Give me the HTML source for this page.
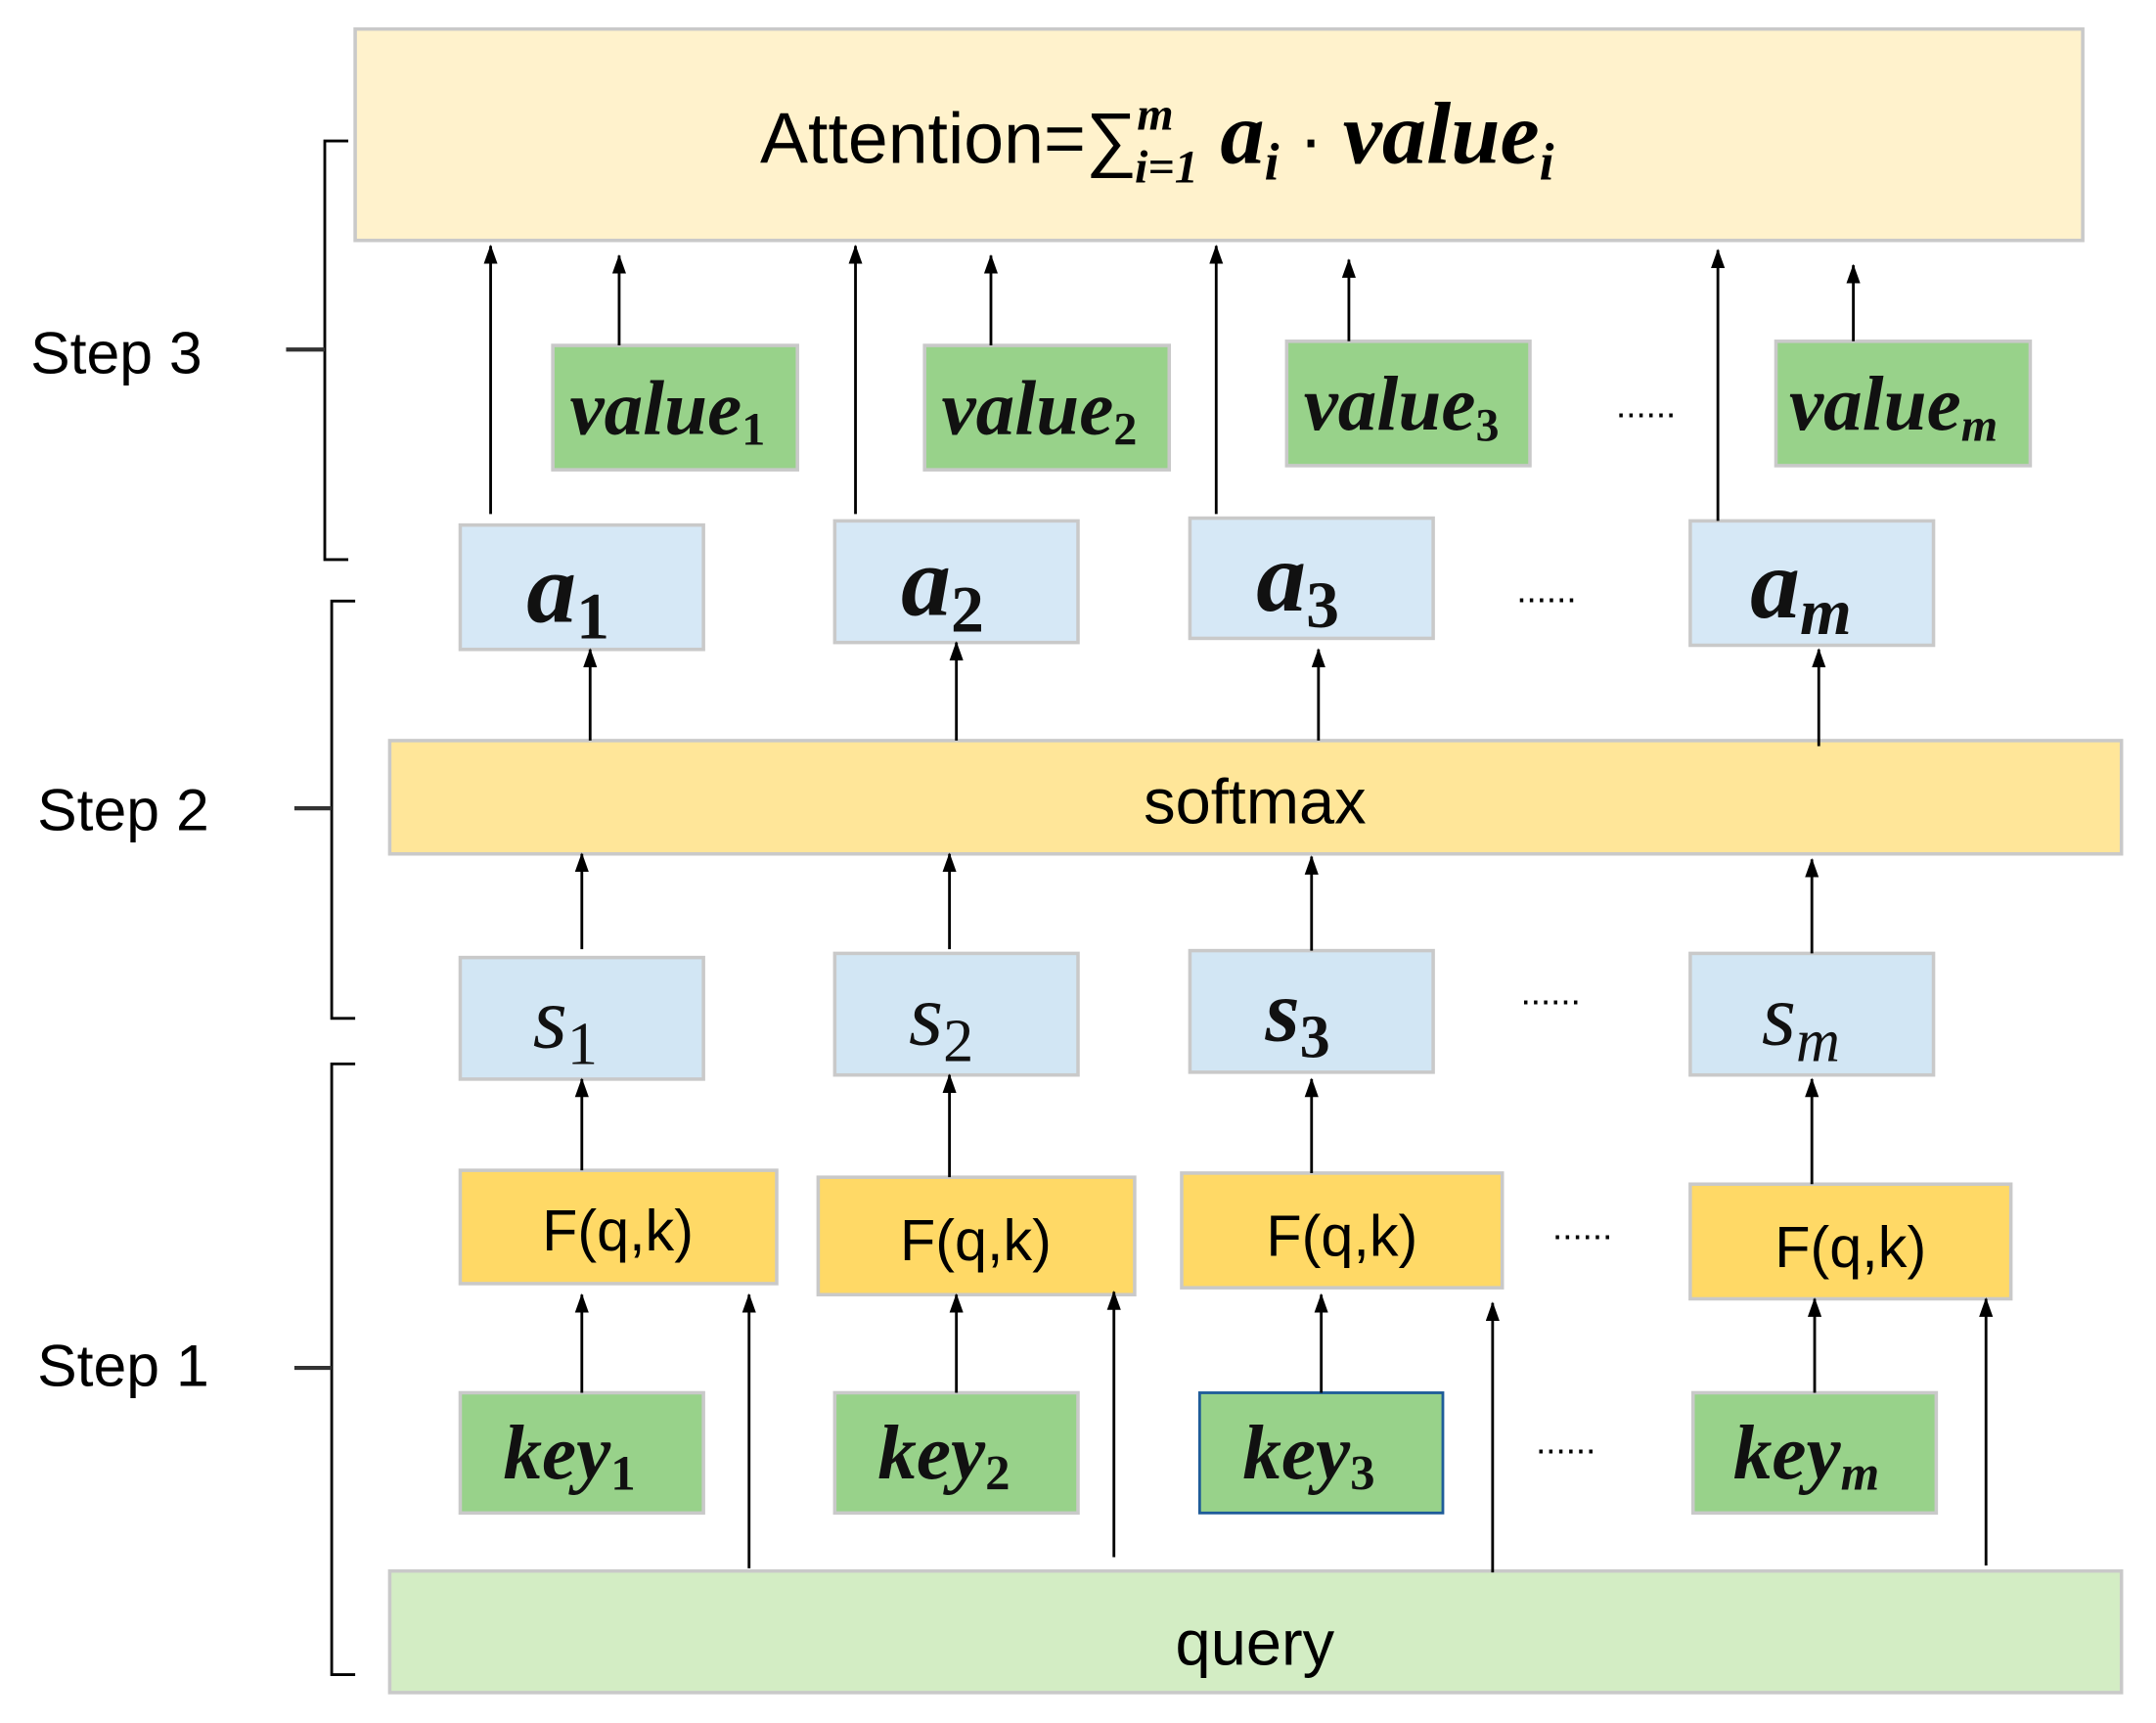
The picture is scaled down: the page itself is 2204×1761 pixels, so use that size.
<!DOCTYPE html>
<html><head><meta charset="utf-8"><style>html,body{margin:0;padding:0;background:#fff}svg{display:block}</style></head>
<body>
<svg width="2204" height="1761" viewBox="0 0 1560 1247" preserveAspectRatio="none" xmlns="http://www.w3.org/2000/svg">
<defs>
<marker id="ar" markerWidth="14" markerHeight="10" refX="13" refY="5" orient="auto" markerUnits="userSpaceOnUse" viewBox="0 0 14 10">
<path d="M0,0 L14,5 L0,10 Z" fill="#000"/></marker>
</defs>
<g stroke="#c9c9c9" stroke-width="2.5">
<rect x="257" y="21" width="1250" height="153" fill="#fff2cc"/>
<rect x="400" y="250" width="177" height="90" fill="#98d28a"/>
<rect x="669" y="250" width="177" height="90" fill="#98d28a"/>
<rect x="931" y="247" width="176" height="90" fill="#98d28a"/>
<rect x="1285" y="247" width="184" height="90" fill="#98d28a"/>
<rect x="333" y="380" width="176" height="90" fill="#d6e8f6"/>
<rect x="604" y="377" width="176" height="88" fill="#d6e8f6"/>
<rect x="861" y="375" width="176" height="87" fill="#d6e8f6"/>
<rect x="1223" y="377" width="176" height="90" fill="#d6e8f6"/>
<rect x="282" y="536" width="1253" height="82" fill="#ffe699"/>
<rect x="333" y="693" width="176" height="88" fill="#d2e6f4"/>
<rect x="604" y="690" width="176" height="88" fill="#d2e6f4"/>
<rect x="861" y="688" width="176" height="88" fill="#d2e6f4"/>
<rect x="1223" y="690" width="176" height="88" fill="#d2e6f4"/>
<rect x="333" y="847" width="229" height="82" fill="#ffd966"/>
<rect x="592" y="852" width="229" height="85" fill="#ffd966"/>
<rect x="855" y="849" width="232" height="83" fill="#ffd966"/>
<rect x="1223" y="857" width="232" height="83" fill="#ffd966"/>
<rect x="333" y="1008" width="176" height="87" fill="#98d28a"/>
<rect x="604" y="1008" width="176" height="87" fill="#98d28a"/>
<rect x="1225" y="1008" width="176" height="87" fill="#98d28a"/>
<rect x="282" y="1137" width="1253" height="88" fill="#d3edc4"/>
</g>
<rect x="868" y="1008" width="176" height="87" fill="#98d28a" stroke="#1f5c99" stroke-width="2"/>

<g stroke="#000" stroke-width="2" fill="none" marker-end="url(#ar)">
<line x1="355" y1="372" x2="355" y2="178"/><line x1="619" y1="372" x2="619" y2="178"/>
<line x1="880" y1="372" x2="880" y2="178"/><line x1="1243" y1="377" x2="1243" y2="181"/>
<line x1="448" y1="250" x2="448" y2="185"/><line x1="717" y1="250" x2="717" y2="185"/>
<line x1="976" y1="247" x2="976" y2="188"/><line x1="1341" y1="247" x2="1341" y2="192"/>
<line x1="427" y1="536" x2="427" y2="470"/><line x1="692" y1="536" x2="692" y2="465"/>
<line x1="954" y1="536" x2="954" y2="470"/><line x1="1316" y1="540" x2="1316" y2="470"/>
<line x1="421" y1="687" x2="421" y2="618"/><line x1="687" y1="687" x2="687" y2="618"/>
<line x1="949" y1="688" x2="949" y2="620"/><line x1="1311" y1="690" x2="1311" y2="622"/>
<line x1="421" y1="847" x2="421" y2="781"/><line x1="687" y1="852" x2="687" y2="778"/>
<line x1="949" y1="849" x2="949" y2="781"/><line x1="1311" y1="857" x2="1311" y2="781"/>
<line x1="421" y1="1008" x2="421" y2="937"/><line x1="692" y1="1008" x2="692" y2="937"/>
<line x1="956" y1="1008" x2="956" y2="937"/><line x1="1313" y1="1008" x2="1313" y2="940"/>
<line x1="542" y1="1135" x2="542" y2="937"/><line x1="806" y1="1127" x2="806" y2="935"/>
<line x1="1080" y1="1138" x2="1080" y2="943"/><line x1="1437" y1="1133" x2="1437" y2="940"/>
</g>

<g stroke="#000" stroke-width="2" fill="none">
<path d="M252,102 H235 V405 H252"/><path d="M207,253 H235" stroke-width="3" stroke="#333"/>
<path d="M257,435 H240 V737 H257"/><path d="M213,585 H240" stroke-width="3" stroke="#333"/>
<path d="M257,770 H240 V1212 H257"/><path d="M213,990 H240" stroke-width="3" stroke="#333"/>
</g>

<g font-family="Liberation Sans, sans-serif" fill="#000">
<text x="22" y="270" font-size="43">Step 3</text>
<text x="27" y="601" font-size="43">Step 2</text>
<text x="27" y="1003" font-size="43">Step 1</text>
<text x="908" y="596" font-size="46" text-anchor="middle">softmax</text>
<text x="908" y="1205" font-size="46" text-anchor="middle">query</text>
<text x="447" y="905" font-size="42" text-anchor="middle">F(q,k)</text>
<text x="706" y="912" font-size="42" text-anchor="middle">F(q,k)</text>
<text x="971" y="909" font-size="42" text-anchor="middle">F(q,k)</text>
<text x="1339" y="917" font-size="42" text-anchor="middle">F(q,k)</text>
<text x="1191" y="302" font-size="26" text-anchor="middle">......</text>
<text x="1119" y="436" font-size="26" text-anchor="middle">......</text>
<text x="1122" y="727" font-size="26" text-anchor="middle">......</text>
<text x="1145" y="897" font-size="26" text-anchor="middle">......</text>
<text x="1133" y="1052" font-size="26" text-anchor="middle">......</text>
<text x="550" y="118" font-size="52">Attention=∑<tspan font-family="Liberation Serif, serif" font-style="italic" font-weight="bold" font-size="34" dy="-24">m</tspan><tspan font-family="Liberation Serif, serif" font-style="italic" font-weight="bold" font-size="34" dx="-28" dy="38">i=1</tspan><tspan font-family="Liberation Serif, serif" font-style="italic" font-weight="bold" font-size="64" dy="-14"> a</tspan><tspan font-family="Liberation Serif, serif" font-style="italic" font-weight="bold" font-size="38" dy="12">i</tspan><tspan dy="-12"> · </tspan><tspan font-family="Liberation Serif, serif" font-style="italic" font-weight="bold" font-size="64">value</tspan><tspan font-family="Liberation Serif, serif" font-style="italic" font-weight="bold" font-size="38" dy="12">i</tspan></text>
</g>

<g font-family="Liberation Serif, serif" font-style="italic" font-weight="bold" fill="#111" text-anchor="middle">
<text x="483" y="314" font-size="56">value<tspan font-style="normal" font-size="34" dy="8">1</tspan></text>
<text x="752" y="314" font-size="56">value<tspan font-style="normal" font-size="34" dy="8">2</tspan></text>
<text x="1014" y="311" font-size="56">value<tspan font-style="normal" font-size="34" dy="8">3</tspan></text>
<text x="1370" y="311" font-size="56">value<tspan font-size="34" dy="8">m</tspan></text>
<text x="411" y="450" font-size="72">a<tspan font-style="normal" font-size="48" dy="12">1</tspan></text>
<text x="682" y="445" font-size="72">a<tspan font-style="normal" font-size="48" dy="12">2</tspan></text>
<text x="939" y="442" font-size="72">a<tspan font-style="normal" font-size="48" dy="12">3</tspan></text>
<text x="1303" y="447" font-size="72">a<tspan font-size="48" dy="12">m</tspan></text>
<text x="409" y="758" font-size="64" font-weight="normal">s<tspan font-style="normal" font-size="44" dy="12">1</tspan></text>
<text x="681" y="756" font-size="64" font-weight="normal">s<tspan font-style="normal" font-size="44" dy="12">2</tspan></text>
<text x="939" y="753" font-size="64">s<tspan font-style="normal" font-size="44" dy="12">3</tspan></text>
<text x="1303" y="756" font-size="64" font-weight="normal">s<tspan font-size="44" dy="12">m</tspan></text>
<text x="412" y="1070" font-size="56">key<tspan font-style="normal" font-size="36" dy="8">1</tspan></text>
<text x="683" y="1070" font-size="56">key<tspan font-style="normal" font-size="36" dy="8">2</tspan></text>
<text x="947" y="1070" font-size="56">key<tspan font-style="normal" font-size="36" dy="8">3</tspan></text>
<text x="1307" y="1070" font-size="56">key<tspan font-size="36" dy="8">m</tspan></text>
</g>
</svg>
</body></html>
